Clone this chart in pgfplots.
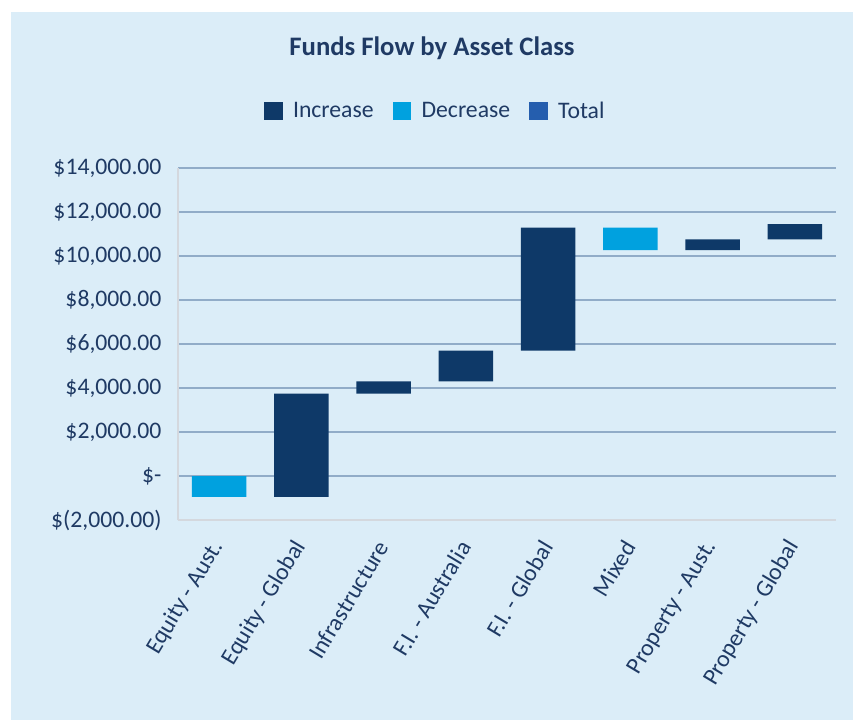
\documentclass[border=0pt]{standalone}
\usepackage{fontspec}
\setmainfont{Carlito}
\usepackage{pgfplots}
\pgfplotsset{compat=1.18}
\usepackage{pgfplotstable}
\definecolor{bgcol}{RGB}{219,237,248}
\definecolor{inccol}{RGB}{14,57,104}
\definecolor{deccol}{RGB}{0,161,223}
\definecolor{totcol}{RGB}{37,94,174}
\definecolor{txtcol}{RGB}{31,58,100}
\definecolor{gridcol}{RGB}{145,172,200}
\definecolor{axcol}{RGB}{212,216,222}
\pgfplotstableread{
idx base inc dec
0 0 0 -950
1 -950 4690 0
2 3740 560 0
3 4300 1400 0
4 5700 5590 0
5 10270 0 1020
6 10270 490 0
7 10760 690 0
}\flows
\begin{document}
\begin{tikzpicture}
\path[use as bounding box] (0bp,0bp) rectangle (860bp,-720bp);
\fill[white] (0bp,0bp) rectangle (860bp,-720bp);
\fill[bgcol] (11bp,-12bp) rectangle (853bp,-720bp);
\begin{axis}[
  at={(178bp,-520bp)}, anchor=south west,
  scale only axis, width=658bp, height=352bp,
  xmin=-0.5, xmax=7.5, ymin=-2000, ymax=14000,
  ybar stacked, stack negative=on previous, bar width=0.66,
  scaled y ticks=false,
  axis x line*=bottom, axis y line*=left,
  axis line style={axcol, line width=1.2bp, -},
  xtick={0,...,7},
  xticklabels={Equity - Aust., Equity - Global, Infrastructure, F.I. - Australia, F.I. - Global, Mixed, Property - Aust., Property - Global},
  ytick={-2000,0,2000,4000,6000,8000,10000,12000,14000},
  yticklabels={\$(2{,}000.00), \$-, \$2{,}000.00, \$4{,}000.00, \$6{,}000.00, \$8{,}000.00, \$10{,}000.00, \$12{,}000.00, \$14{,}000.00},
  major tick length=0pt,
  ymajorgrids, major grid style={gridcol, line width=1.3bp},
  ticklabel style={font=\fontsize{23.7bp}{28bp}\selectfont, text=txtcol},
  yticklabel style={xshift=-13bp},
  xticklabel style={xshift=1bp, yshift=-20bp, rotate=59, anchor=east},
  title={\textbf{Funds Flow by Asset Class}},
  title style={at={(axis description cs:0.386,1.324)}, anchor=center, font=\fontsize{26.7bp}{32bp}\selectfont, text=txtcol},
  legend style={at={(axis description cs:0.391,1.162)}, anchor=center, draw=none, fill=none,
    font=\fontsize{23.7bp}{28bp}\selectfont, text=txtcol, legend columns=3,
    /tikz/every even column/.append style={column sep=17bp}},
  legend image code/.code={\fill[#1] (0bp,-9bp) rectangle (18.5bp,9bp); \path (27bp,0bp);},
]
\addplot[fill=none, draw=none, forget plot] table[x=idx, y=base] {\flows};
\addplot[fill=inccol, draw=none] table[x=idx, y=inc] {\flows};
\addplot[fill=deccol, draw=none] table[x=idx, y=dec] {\flows};
\addlegendentry{Increase}
\addlegendentry{Decrease}
\addlegendimage{fill=totcol, draw=none}
\addlegendentry{Total}
\end{axis}
\end{tikzpicture}
\end{document}
